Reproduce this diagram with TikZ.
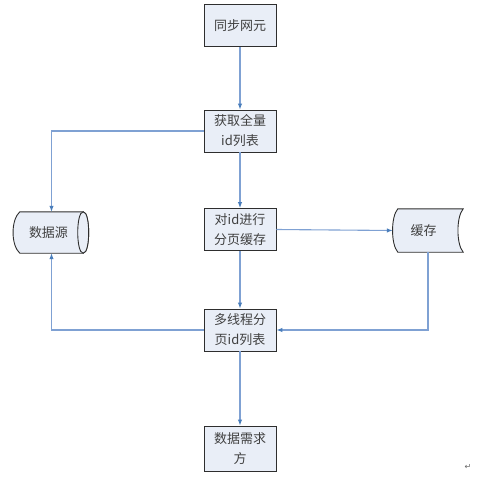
\documentclass[tikz,border=0pt]{standalone}
\usepackage{fontspec}
\newfontfamily\cjk{Noto Sans CJK SC}
\newfontfamily\symfont{DejaVu Sans}
\usetikzlibrary{arrows.meta}
\definecolor{boxfill}{HTML}{E9EEF7}
\definecolor{boxline}{HTML}{2E2E2E}
\definecolor{linkline}{HTML}{7FA1D3}
\definecolor{linktip}{HTML}{4A7EBB}
\begin{document}
\begin{tikzpicture}[x=1pt, y=-1pt,
    every node/.style={font=\cjk\fontsize{13}{20}\selectfont, text=black!75},
    procbox/.style={draw=boxline, fill=boxfill, line width=0.9pt,
      minimum width=72pt, minimum height=42pt, inner sep=0pt,
      text width=66pt, align=center},
    storebody/.style={draw=boxline, fill=boxfill, line width=0.9pt},
    link/.style={draw=linkline, line width=1.1pt,
      -{Latex[length=6pt,width=4.5pt,color=linktip]}}]
  \useasboundingbox (0,0) rectangle (499,482);
  % process boxes
  \node[procbox] (sync) at (240,25.5) {同步网元};
  \node[procbox] (get) at (240,131) {获取全量\\id列表};
  \node[procbox] (split) at (240,229.5) {对id进行\\分页缓存};
  \node[procbox] (multi) at (240,330) {多线程分\\页id列表};
  \node[procbox, minimum height=45pt] (need) at (240,448.5) {数据需求\\方};
  % stores
  \node[minimum width=63pt, minimum height=41pt, inner sep=0pt] (src) at (51.5,232.5) {};
  \draw[storebody] (src.north west) .. controls +(-9,8) and +(-9,-8) .. (src.south west)
    -- (src.south east) .. controls +(7.3,0) and +(7.3,0) .. (src.north east) -- cycle;
  \draw[storebody] (src.north east) .. controls +(-7.3,0) and +(-7.3,0) .. (src.south east)
    .. controls +(7.3,0) and +(7.3,0) .. (src.north east) -- cycle;
  \node at ([xshift=-3pt]src.center) {数据源};
  \node[minimum width=65pt, minimum height=43pt, inner sep=0pt] (cache) at (430.5,230.5) {};
  \draw[storebody] (cache.north west) .. controls +(-7,8) and +(-7,-8) .. (cache.south west)
    -- (cache.south east) .. controls +(-7,-8) and +(-7,8) .. (cache.north east) -- cycle;
  \node at ([xshift=-7pt]cache.center) {缓存};
  % connectors
  \draw[link] (sync) -- (get);
  \draw[link] (get.west) -| (src.north);
  \draw[link] (get) -- (split);
  \draw[link] (split.east) -- ([xshift=-5pt]cache.west);
  \draw[link] (split) -- (multi);
  \draw[link] ([xshift=-2.5pt]cache.south) |- (multi.east);
  \draw[link] (multi.west) -| (src.south);
  \draw[link] (multi) -- (need);
  % paragraph mark
  \node[font=\symfont\fontsize{8}{8}\selectfont, text=black!60] (mark) at (468,467) {↵};
\end{tikzpicture}
\end{document}
